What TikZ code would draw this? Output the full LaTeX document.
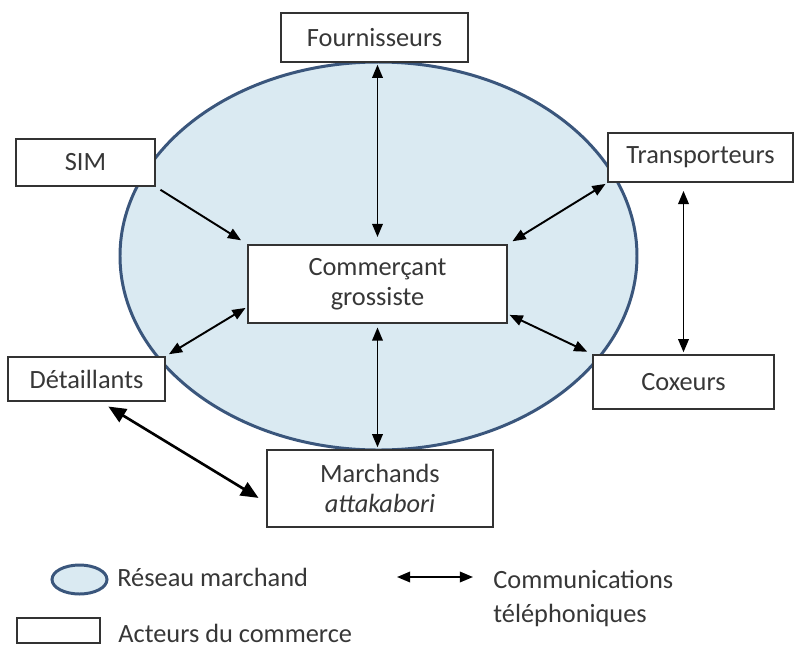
\documentclass[tikz,border=0pt]{standalone}
\usepackage{fontspec}
\setmainfont{Carlito}
\usepackage{tikz}
\usetikzlibrary{shapes.geometric, arrows.meta}
\usetikzlibrary{positioning}
\definecolor{reseauFill}{RGB}{218,234,242}
\definecolor{reseauDraw}{RGB}{58,86,124}
\definecolor{texte}{RGB}{55,55,55}
\tikzstyle{acteur} = [rectangle, text centered, align=center, draw=black!80, line width=1.1pt, fill=white, text=texte, inner sep=0pt]
\tikzstyle{reseau} = [ellipse, draw=reseauDraw, line width=1.7pt, fill=reseauFill]
\tikzstyle{appel} = [line width=1.1pt, {Triangle[length=7.5pt,width=6pt]}-{Triangle[length=7.5pt,width=6pt]}]
\tikzstyle{appelFort} = [line width=1.5pt, {Triangle[length=10pt,width=8.5pt]}-{Triangle[length=10pt,width=8.5pt]}]
\tikzstyle{info} = [line width=1.1pt, -{Triangle[length=7.5pt,width=6pt]}]
\tikzstyle{legende} = [anchor=west, inner sep=0pt, text=texte, align=left]

\begin{document}
\begin{tikzpicture}[node distance=2 cm, font=\fontsize{15}{17}\selectfont]
                                \useasboundingbox (-7.55,-7.24) rectangle (8.35,5.68);
                                \node (reseau) [reseau, minimum width=10.34cm, minimum height=7.76cm] at (0.02,0.56) {};
                                \node (grossiste) [acteur, minimum width=5.18cm, minimum height=1.56cm] {Commerçant\\grossiste};
                                \node (fournisseurs) [acteur, minimum width=3.74cm, minimum height=0.98cm, above of=grossiste, yshift=2.93cm, xshift=-0.06cm] {Fournisseurs};
                                \node (SIM) [acteur, minimum width=2.78cm, minimum height=0.94cm, left of=grossiste, xshift=-3.84cm, yshift=2.43cm] {SIM};
                                \node (transporteurs) [acteur, minimum width=3.7cm, minimum height=0.98cm, right of=grossiste, xshift=4.46cm, yshift=2.53cm] {Transporteurs};
                                \node (detaillants) [acteur, minimum width=3.14cm, minimum height=0.88cm, left of=grossiste, xshift=-3.82cm, yshift=-1.9cm] {Détaillants};
                                \node (coxeurs) [acteur, minimum width=3.62cm, minimum height=1.08cm, right of=grossiste, xshift=4.12cm, yshift=-1.96cm] {Coxeurs};
                                \node (marchands) [acteur, minimum width=4.52cm, minimum height=1.54cm, below of=grossiste, yshift=-2.09cm, xshift=0.05cm] {Marchands\\\textit{attakabori}};
                                \draw [appel, shorten <=1pt, shorten >=4pt] (fournisseurs.south -| grossiste.north) -- (grossiste.north);
                                \draw [info, shorten <=3pt, shorten >=4pt] (SIM.south east) -- (grossiste.north west);
                                \draw [appel, shorten <=1pt, shorten >=3pt] (transporteurs.south west) -- (grossiste.north east);
                                \draw [appel, shorten <=4.5pt, shorten >=1pt] (coxeurs.north |- transporteurs.south) -- (coxeurs.north);
                                \draw [appel, shorten <=1pt, shorten >=3pt] (grossiste.-13) -- (coxeurs.north west);
                                \draw [appel, shorten <=1pt, shorten >=2pt] (grossiste.190) -- (detaillants.north east);
                                \draw [appel, shorten <=2pt, shorten >=1pt] (grossiste.south) -- (grossiste.south |- marchands.north);
                                \draw [appelFort, shorten <=5pt, shorten >=5pt] (detaillants.-58) -- (marchands.187);
                                % legende
                                \node (legReseau) [reseau, minimum width=1.1cm, minimum height=0.58cm] at (-5.96,-5.91) {};
                                \node (txtReseau) [legende] at (-5.21,-5.86) {Réseau marchand};
                                \node (legActeur) [acteur, minimum width=1.66cm, minimum height=0.5cm] at (-6.38,-6.93) {};
                                \node (txtActeur) [legende] at (-5.19,-6.98) {Acteurs du commerce};
                                \coordinate (flecheA) at (0.39,-5.86);
                                \coordinate (flecheB) at (1.91,-5.86);
                                \draw [appel] (flecheA) -- (flecheB);
                                \node (txtAppel) [legende] at (2.31,-6.29) {Communications\\[2pt]téléphoniques};
                            \end{tikzpicture}
\end{document}
